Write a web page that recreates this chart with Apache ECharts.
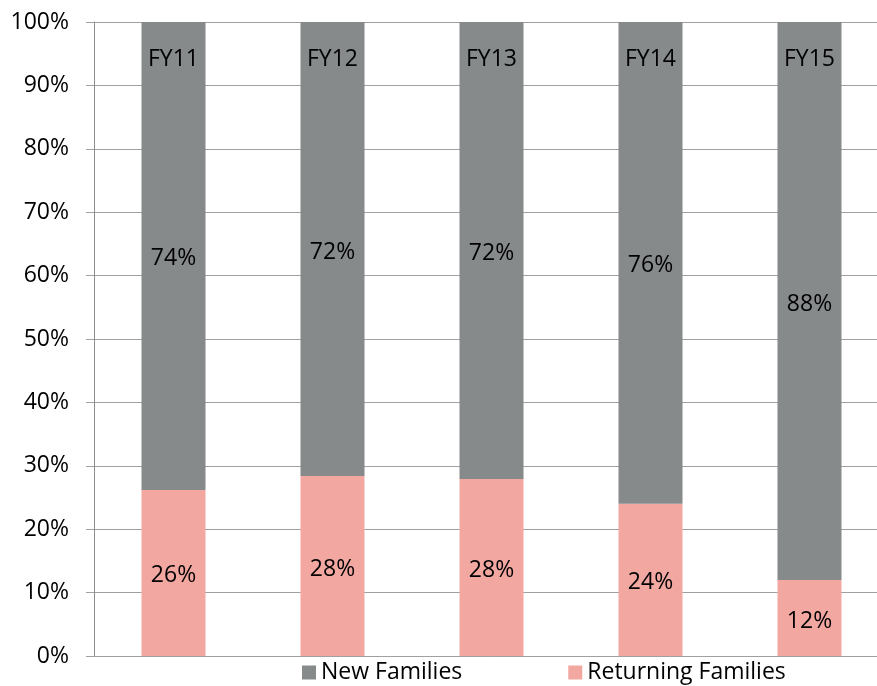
<!DOCTYPE html>
<html>
<head>
<meta charset="utf-8">
<script src="https://cdn.jsdelivr.net/npm/echarts@6/dist/echarts.min.js"></script>
<style>
  html, body { margin: 0; padding: 0; background: #fff; overflow: hidden; }
  #chart { width: 889px; height: 686px; }
</style>
</head>
<body>
<div id="chart"></div>
<script>
const years = ['FY11', 'FY12', 'FY13', 'FY14', 'FY15']
const returningFamilies = [26.2, 28.4, 27.9, 24.0, 12.0]
const newFamilies = [73.8, 71.6, 72.1, 76.0, 88.0]
const yTicks = [0, 10, 20, 30, 40, 50, 60, 70, 80, 90, 100]

const font = 'Open Sans, Noto Sans, sans-serif'
const pctLabel = {
  show: true,
  position: 'inside',
  offset: [0, 3],
  color: '#000',
  fontSize: 23,
  fontFamily: font,
  formatter: p => Math.round(p.value) + '%',
}

// plot runs slightly past the right edge of the window, like the original
const chart = echarts.init(document.getElementById('chart'))
chart.setOption({
  animation: false,
  grid: { left: 94, right: 0, top: 22, bottom: 30 },
  legend: {
    left: 297,
    top: 656,
    itemWidth: 14,
    itemHeight: 14,
    itemGap: 106,
    icon: 'rect',
    textStyle: { fontSize: 23, fontFamily: font, color: '#000' },
    data: ['New Families', 'Returning Families'],
  },
  xAxis: {
    type: 'category',
    data: years,
    position: 'top',
    z: 10,
    axisLine: { lineStyle: { color: '#a0a0a0', width: 1 } },
    axisTick: { inside: true, length: 8, lineStyle: { color: '#a0a0a0' } },
    axisLabel: { inside: true, margin: 26, color: '#000', fontSize: 23, fontFamily: font },
  },
  yAxis: {
    type: 'value',
    min: yTicks[0],
    max: yTicks[yTicks.length - 1],
    interval: 10,
    axisLine: { show: true, lineStyle: { color: '#8c8c8c' } },
    axisTick: { show: true, length: 8, lineStyle: { color: '#a0a0a0' } },
    axisLabel: { margin: 25, color: '#000', fontSize: 23, fontFamily: font, formatter: '{value}%' },
    splitLine: { lineStyle: { color: '#a0a0a0' } },
  },
  series: [
    {
      name: 'Returning Families',
      type: 'bar',
      stack: 'total',
      barWidth: 64,
      data: returningFamilies,
      itemStyle: { color: '#f2a7a1' },
      label: pctLabel,
    },
    {
      name: 'New Families',
      type: 'bar',
      stack: 'total',
      barWidth: 64,
      data: newFamilies,
      itemStyle: { color: '#868a8a' },
      label: pctLabel,
    },
  ],
})
</script>
</body>
</html>
